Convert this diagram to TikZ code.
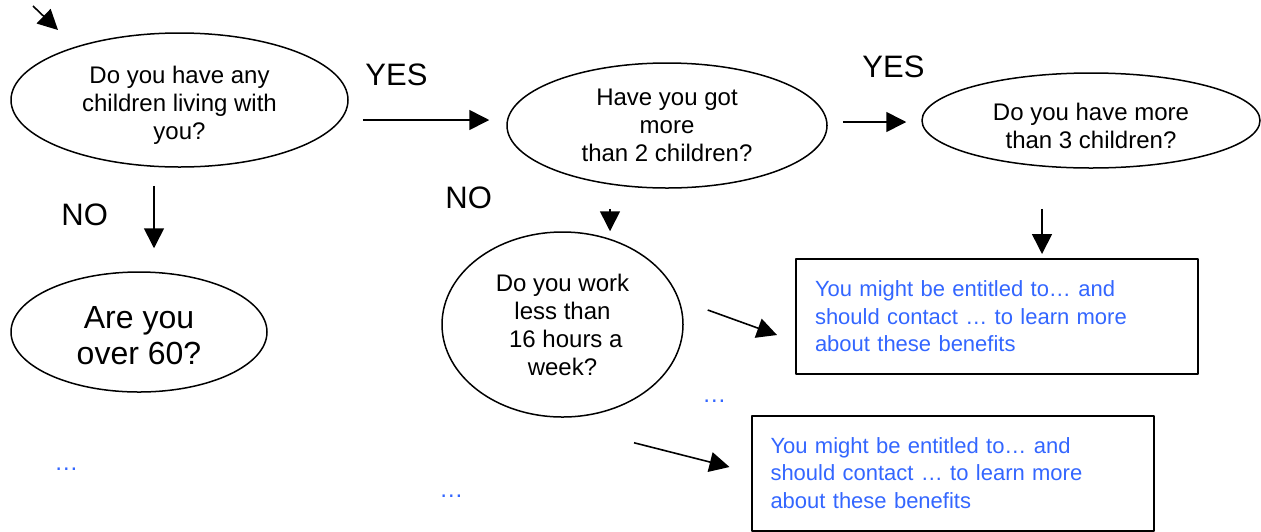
\documentclass[tikz,border=0pt]{standalone}
\usepackage{fontspec}
\setmainfont{Liberation Sans}
\usetikzlibrary{arrows.meta, shapes.geometric}
\definecolor{infoblue}{RGB}{51,102,255}

\begin{document}
\begin{tikzpicture}[x=0.5pt, y=-0.5pt, >={Triangle[length=10pt,width=10pt]}, line join=round,
	question/.style={draw, ellipse, line width=0.75pt, inner sep=0pt, align=center, font=\fontsize{12}{14}\selectfont},
	answer/.style={draw, rectangle, line width=1pt, text=infoblue, align=left, text width=182pt, inner xsep=9.5pt, minimum height=57.5pt, font=\fontsize{11}{13.75}\selectfont},
	choice/.style={anchor=base west, inner sep=0pt, font=\fontsize{15.5}{18}\selectfont},
	more/.style={anchor=base west, inner sep=0pt, text=infoblue, font=\fontsize{12}{14}\selectfont},
	flow/.style={->, line width=0.8pt}]
	
	\useasboundingbox (0,0) rectangle (1261,531);
	
	% ===== questions =====
	\node[question, minimum width=168.5pt, minimum height=67pt] (children) at (179.5,100)
		{\rule{0pt}{13.8pt}Do you have any\\children living with\\you?};
	\node[question, minimum width=160pt, minimum height=62.5pt] (twokids) at (667,125.5)
		{Have you got\\more\\than 2 children?};
	\node[question, minimum width=169pt, minimum height=47.5pt] (threekids) at (1091,120.5)
		{\rule{0pt}{13.8pt}Do you have more\\than 3 children?};
	\node[question, minimum width=128pt, minimum height=60pt, font=\fontsize{16}{18}\selectfont] (over60) at (139,332)
		{\rule{0pt}{15pt}Are you\\over 60?};
	\node[question, minimum width=120.5pt, minimum height=92.5pt] (hours) at (562.5,324.5)
		{Do you work\\less than\\~16 hours a\\week?};
	
	% ===== outcomes =====
	\node[answer] (benefitA) at (997,316.5)
		{You might be entitled to\dots\ and\\should contact \dots\ to learn more\\about these benefits};
	\node[answer] (benefitB) at (952.5,473)
		{You might be entitled to\dots\ and\\should contact \dots\ to learn more\\about these benefits};
	
	% ===== labels =====
	\node[choice] (yesA) at (365,85) {YES};
	\node[choice] (yesB) at (862,77) {YES};
	\node[choice] (noA) at (61,225) {NO};
	\node[choice] (noB) at (445,208) {NO};
	\node[more] (dotsA) at (54,470) {\dots};
	\node[more] (dotsB) at (702,402) {\dots};
	\node[more] (dotsC) at (439,497) {\dots};
	
	% ===== arrows =====
	\coordinate (start) at (33,6);
	\draw[flow] (start) -- ([shift={(-121.5,-70)}]children.center);
	\draw[flow] ([shift={(14,20)}]children.east) -- ([shift={(-17,-5.5)}]twokids.west);
	\draw[flow] ([shift={(15,-3.5)}]twokids.east) -- ([shift={(-15,1.5)}]threekids.west);
	\draw[flow] ([shift={(-25.5,18)}]children.south) -- ([shift={(15,-23)}]over60.north);
	\draw[flow] ([shift={(-57,20)}]twokids.south) -- ([shift={(47.5,0)}]hours.north);
	\draw[flow] ([shift={(-49,40)}]threekids.south) -- ([shift={(45,-4)}]benefitA.north);
	\draw[flow] ([shift={(24,-14.5)}]hours.east) -- ([shift={(-18,18.5)}]benefitA.west);
	\draw[flow] ([shift={(71.5,25)}]hours.south) -- ([shift={(-21,-6)}]benefitB.west);
	
\end{tikzpicture}
\end{document}
